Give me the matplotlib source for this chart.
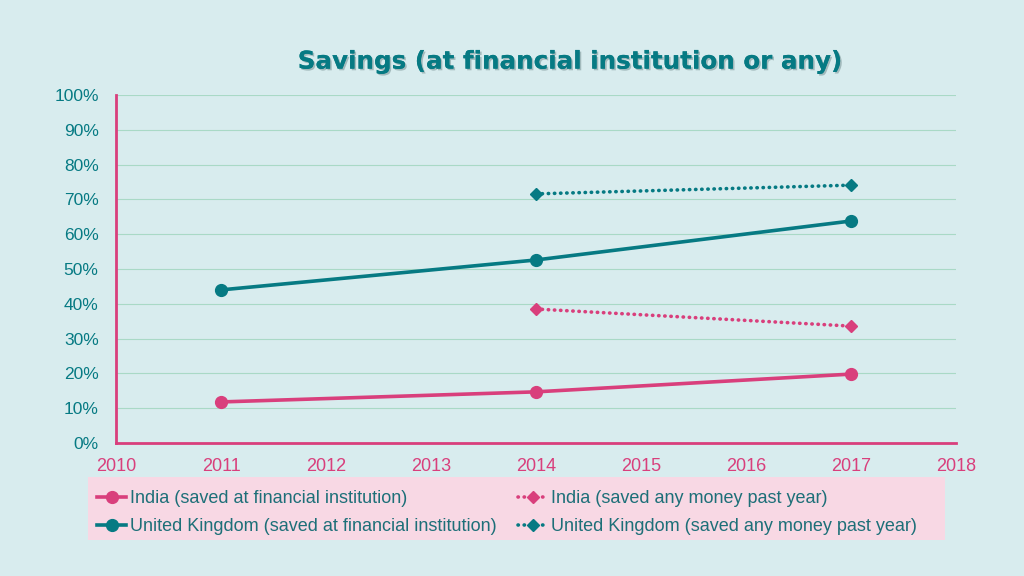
import matplotlib
matplotlib.use("Agg")
import matplotlib.pyplot as plt
import matplotlib.patheffects as pe
from matplotlib.patches import Rectangle

years_fi = [2011, 2014, 2017]
india_fi = [11.8, 14.7, 19.8]
uk_fi = [44.0, 52.6, 63.8]
years_any = [2014, 2017]
india_any = [38.5, 33.6]
uk_any = [71.6, 74.1]
x_ticks = [2010, 2011, 2012, 2013, 2014, 2015, 2016, 2017, 2018]
y_ticks = [0, 10, 20, 30, 40, 50, 60, 70, 80, 90, 100]
labels = ["India (saved at financial institution)",
          "United Kingdom (saved at financial institution)",
          "India (saved any money past year)",
          "United Kingdom (saved any money past year)"]
title = "Savings (at financial institution or any)"

BG = "#d8ecee"
TEAL = "#067a83"
PINK = "#d93f7c"
GRID = "#a9d9c6"
LEGBG = "#f8d8e4"

fig = plt.figure(figsize=(10.24, 5.76), dpi=100, facecolor=BG)
ax = fig.add_axes([0.1133, 0.2309, 0.8203, 0.6041])
ax.set_facecolor(BG)

dot = (0, (0.1, 1.6))
ax.plot(years_fi, india_fi, color=PINK, lw=2.6, marker="o", ms=8.5, label=labels[0], zorder=3)
ax.plot(years_fi, uk_fi, color=TEAL, lw=2.6, marker="o", ms=8.5, label=labels[1], zorder=3)
ax.plot(years_any, india_any, color=PINK, lw=2.6, ls=dot, dash_capstyle="round",
        marker="D", ms=6.5, label=labels[2], zorder=3)
ax.plot(years_any, uk_any, color=TEAL, lw=2.6, ls=dot, dash_capstyle="round",
        marker="D", ms=6.5, label=labels[3], zorder=3)

ax.set_xlim(2010, 2018)
ax.set_ylim(0, 100)
ax.set_xticks(x_ticks)
ax.set_xticklabels([str(x) for x in x_ticks], color=PINK, fontsize=13, family="Liberation Sans")
ax.set_yticks(y_ticks)
ax.set_yticklabels([f"{y}%" for y in y_ticks], color=TEAL, fontsize=12.5, family="Liberation Sans")
ax.tick_params(axis="x", length=0, pad=10.5)
ax.tick_params(axis="y", length=0, pad=12.5)
ax.grid(axis="y", color=GRID, lw=0.8)
ax.set_axisbelow(True)
for s in ["top", "right"]:
    ax.spines[s].set_visible(False)
for s in ["left", "bottom"]:
    ax.spines[s].set_color(PINK)
    ax.spines[s].set_linewidth(2)

fig.text(0.557, 0.893, title, ha="center", va="center", fontsize=17.7, fontweight="bold",
         color=TEAL, family="DejaVu Sans",
         path_effects=[pe.withSimplePatchShadow(offset=(1.2, -1.2), alpha=0.25), pe.Normal()])

fig.patches.append(Rectangle((0.086, 0.0625), 0.837, 0.11, transform=fig.transFigure,
                             facecolor=LEGBG, edgecolor="none", zorder=0))

handles, labs = ax.get_legend_handles_labels()
leg = fig.legend(handles, labs, ncol=2, loc="upper left",
                 bbox_to_anchor=(0.089, 0.16),
                 frameon=False,
                 prop={"family": "Liberation Sans", "size": 13}, handlelength=1.6, handletextpad=0.2,
                 borderaxespad=0, borderpad=0.35, labelspacing=0.6, columnspacing=1.2)
for t in leg.get_texts():
    t.set_color("#1d6f78")

fig.savefig("out.png", dpi=100, facecolor=BG)
